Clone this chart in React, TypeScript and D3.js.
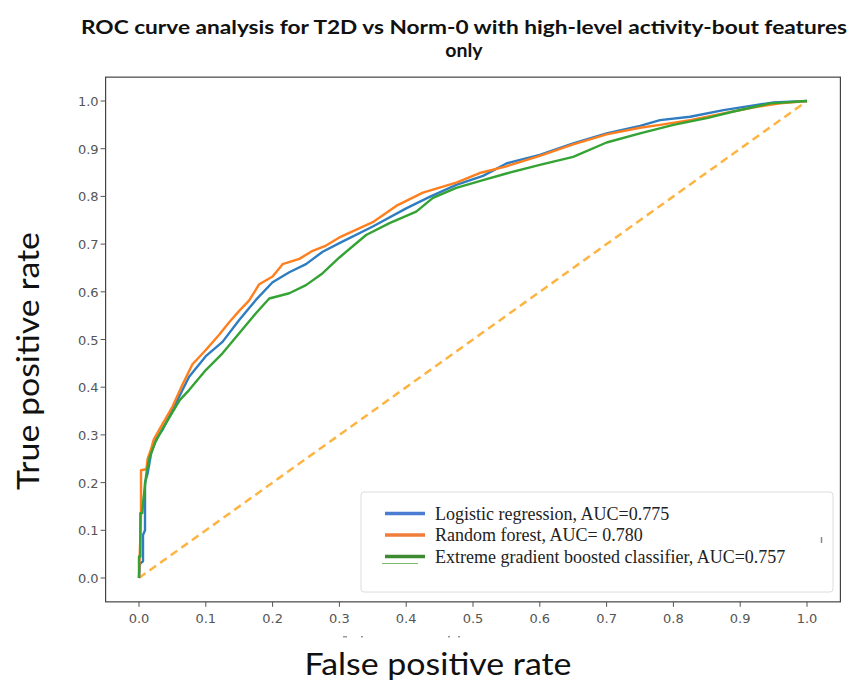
import React from 'react';
import * as d3 from 'd3';

// ROC points (false positive rate, true positive rate)
const lrFpr = [0, 0.0015, 0.006, 0.006, 0.009, 0.009, 0.013, 0.018, 0.025, 0.035, 0.05, 0.075, 0.1, 0.125, 0.15, 0.175, 0.2, 0.225, 0.25, 0.275, 0.3, 0.35, 0.4, 0.435, 0.475, 0.515, 0.55, 0.6, 0.65, 0.7, 0.75, 0.78, 0.825, 0.875, 0.925, 0.95, 1.0];
const lrTpr = [0, 0.03, 0.035, 0.09, 0.1, 0.2, 0.22, 0.26, 0.29, 0.31, 0.352, 0.422, 0.465, 0.495, 0.541, 0.583, 0.62, 0.641, 0.658, 0.684, 0.702, 0.737, 0.775, 0.799, 0.824, 0.843, 0.869, 0.887, 0.911, 0.932, 0.948, 0.96, 0.967, 0.981, 0.992, 0.997, 1.0];

const rfFpr = [0, 0.003, 0.003, 0.011, 0.013, 0.018, 0.022, 0.03, 0.05, 0.065, 0.08, 0.1, 0.12, 0.135, 0.15, 0.165, 0.18, 0.2, 0.215, 0.24, 0.26, 0.28, 0.3, 0.35, 0.385, 0.425, 0.475, 0.51, 0.55, 0.6, 0.65, 0.7, 0.75, 0.78, 0.825, 0.875, 0.925, 0.96, 1.0];
const rfTpr = [0, 0.13, 0.226, 0.228, 0.25, 0.27, 0.29, 0.31, 0.359, 0.405, 0.448, 0.478, 0.51, 0.536, 0.56, 0.582, 0.616, 0.632, 0.658, 0.669, 0.686, 0.697, 0.714, 0.746, 0.78, 0.808, 0.829, 0.849, 0.863, 0.885, 0.909, 0.93, 0.944, 0.95, 0.96, 0.974, 0.988, 0.995, 1.0];

const xgbFpr = [0, 0, 0.002, 0.002, 0.005, 0.0065, 0.011, 0.016, 0.024, 0.034, 0.046, 0.061, 0.075, 0.1, 0.125, 0.15, 0.175, 0.195, 0.225, 0.25, 0.275, 0.3, 0.34, 0.375, 0.415, 0.44, 0.475, 0.515, 0.55, 0.6, 0.65, 0.7, 0.75, 0.8, 0.85, 0.89, 0.945, 1.0];
const xgbTpr = [0, 0.045, 0.045, 0.136, 0.136, 0.164, 0.219, 0.254, 0.283, 0.31, 0.338, 0.373, 0.394, 0.436, 0.471, 0.513, 0.555, 0.586, 0.597, 0.614, 0.639, 0.672, 0.719, 0.744, 0.768, 0.797, 0.818, 0.834, 0.848, 0.866, 0.883, 0.913, 0.932, 0.95, 0.964, 0.978, 0.995, 1.0];

const chanceFpr = [0, 1];
const chanceTpr = [0, 1];

const tickValues = [0, 0.1, 0.2, 0.3, 0.4, 0.5, 0.6, 0.7, 0.8, 0.9, 1.0];
const tickLabels = ['0.0', '0.1', '0.2', '0.3', '0.4', '0.5', '0.6', '0.7', '0.8', '0.9', '1.0'];

const legendLabels = [
  'Logistic regression, AUC=0.775',
  'Random forest, AUC= 0.780',
  'Extreme gradient boosted classifier, AUC=0.757',
];

const curveColors = ['#2f7dc0', '#ff7f1e', '#34a334'];
const legendColors = ['#4a7dd2', '#f07d3a', '#3d8a33'];

const W = 851;
const H = 689;

export default function App() {
  // matplotlib style 5% margins around [0, 1]
  const x = d3.scaleLinear().domain([-0.05, 1.05]).range([105.6, 840.4]);
  const y = d3.scaleLinear().domain([-0.05, 1.05]).range([601.85, 77.15]);

  const line = d3.line<[number, number]>()
    .x(d => x(d[0]))
    .y(d => y(d[1]))
    .curve(d3.curveLinear);

  const series = [
    { fpr: lrFpr, tpr: lrTpr },
    { fpr: rfFpr, tpr: rfTpr },
    { fpr: xgbFpr, tpr: xgbTpr },
  ];
  const pts = (f: number[], t: number[]) => f.map((v, i) => [v, t[i]] as [number, number]);

  const [x0, x1] = x.range();
  const [yb, yt] = y.range();

  return (
    <svg width={W} height={H} style={{ position: 'absolute', left: 0, top: 0, background: '#fff' }}>
      {/* title */}
      <g fontFamily="Lato, 'Liberation Sans', sans-serif" fontWeight="bold" fontSize="19.5" fill="#111" textAnchor="middle">
        <text x={464} y={34} textLength={766} lengthAdjust="spacingAndGlyphs">ROC curve analysis for T2D vs Norm-0 with high-level activity-bout features</text>
        <text x={464} y={57}>only</text>
      </g>

      {/* frame */}
      <rect x={x0} y={yt} width={x1 - x0} height={yb - yt} fill="none" stroke="#444" strokeWidth={1.2} />

      {/* ticks */}
      <g stroke="#555" strokeWidth={1}>
        {tickValues.map(v => (
          <line key={'xt' + v} x1={x(v)} x2={x(v)} y1={yb} y2={yb + 5} />
        ))}
        {tickValues.map(v => (
          <line key={'yt' + v} x1={x0} x2={x0 - 5} y1={y(v)} y2={y(v)} />
        ))}
      </g>
      <g fontFamily="'DejaVu Sans', sans-serif" fontSize="13" fill="#555">
        {tickValues.map((v, i) => (
          <text key={'xl' + v} x={x(v)} y={yb + 21} textAnchor="middle">{tickLabels[i]}</text>
        ))}
        {tickValues.map((v, i) => (
          <text key={'yl' + v} x={x0 - 7} y={y(v) + 5} textAnchor="end">{tickLabels[i]}</text>
        ))}
      </g>
      {/* faint remnants under the tick labels */}
      <g fill="#999">
        <rect x={343} y={636} width={4} height={1.5} />
        <rect x={361} y={636} width={2} height={1.5} />
        <rect x={448} y={636} width={2} height={1.5} />
        <rect x={458} y={636} width={2} height={1.5} />
      </g>

      {/* chance line */}
      <path d={line(pts(chanceFpr, chanceTpr)) || ''} fill="none" stroke="#fdb443" strokeWidth={2.5} strokeDasharray="8,5" />

      {/* ROC curves */}
      {series.map((s, i) => (
        <path key={i} d={line(pts(s.fpr, s.tpr)) || ''} fill="none" stroke={curveColors[i]} strokeWidth={2.4} strokeLinejoin="round" />
      ))}

      {/* legend */}
      <rect x={361} y={492} width={472} height={100} rx={3} fill="#fff" stroke="#dcdcdc" strokeWidth={1} />
      {legendLabels.map((lab, i) => {
        const cy = 513.5 + i * 21.5;
        return (
          <g key={lab}>
            <line x1={385} x2={425} y1={cy} y2={cy} stroke={legendColors[i]} strokeWidth={3.5} />
            <text x={435} y={cy + 6} fontFamily="'Liberation Serif', 'Times New Roman', serif" fontSize="18" fill="#222">{lab}</text>
          </g>
        );
      })}
      <line x1={382} x2={418} y1={563.5} y2={563.5} stroke="#7ab86a" strokeWidth={1} />
      <line x1={821.5} x2={821.5} y1={537} y2={543} stroke="#888" strokeWidth={1.5} />

      {/* axis labels */}
      <text x={438} y={675} textAnchor="middle" fontFamily="Lato, 'Open Sans', sans-serif" fontSize="30" fill="#111" textLength={267} lengthAdjust="spacingAndGlyphs">False positive rate</text>
      <text transform="translate(39,361) rotate(-90)" textAnchor="middle" fontFamily="Lato, 'Open Sans', sans-serif" fontSize="30" fill="#111" textLength={258} lengthAdjust="spacingAndGlyphs">True positive rate</text>
    </svg>
  );
}
